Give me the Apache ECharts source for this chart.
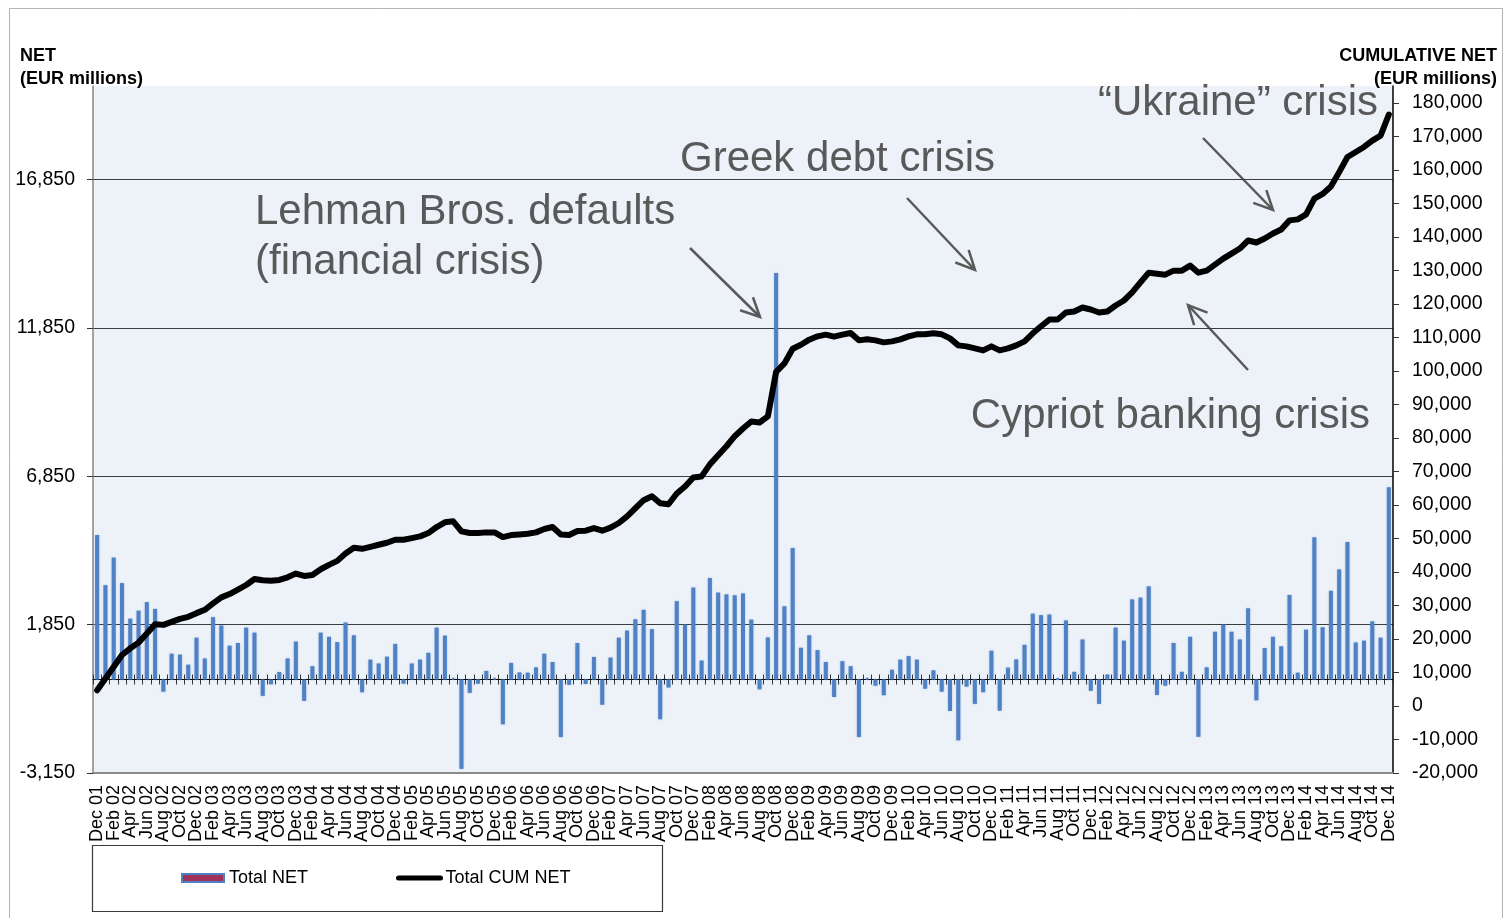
<!DOCTYPE html>
<html>
<head>
<meta charset="utf-8">
<script src="https://cdn.jsdelivr.net/npm/echarts@6/dist/echarts.min.js"></script>
<style>
  html, body { margin: 0; padding: 0; background: #fff; }
  #chart { width: 1512px; height: 918px; }
</style>
</head>
<body>
<div id="chart"></div>
<script>
// month labels, Dec 01 .. Dec 14
const monthNames = ['Jan', 'Feb', 'Mar', 'Apr', 'May', 'Jun', 'Jul', 'Aug', 'Sep', 'Oct', 'Nov', 'Dec'];
const categories = ['Dec 01'];
for (let y = 2; y <= 14; y++) {
  monthNames.forEach((m) => categories.push(m + ' ' + String(y).padStart(2, '0')));
}

// monthly net (EUR millions)
const totalNet = [
  4870, 3180, 4110, 3250, 2050, 2320, 2610, 2380, -410, 870, 840, 500,
  1410, 710, 2100, 1820, 1140, 1230, 1750, 1580, -550, -160, 250, 710,
  1280, -720, 450, 1580, 1440, 1260, 1920, 1490, -430, 670, 540, 770,
  1200, -140, 540, 670, 900, 1750, 1480, 60, -3010, -450, -140, 290,
  60, -1510, 560, 240, 230, 410, 870, 590, -1940, -180, 1230, -150,
  760, -850, 740, 1410, 1650, 2030, 2350, 1700, -1340, -270, 2640, 1850,
  3100, 640, 3420, 2930, 2870, 2840, 2900, 2020, -330, 1420, 13700, 2470,
  4430, 1070, 1490, 990, 590, -590, 620, 450, -1940, 50, -210, -530,
  330, 670, 790, 670, -310, 310, -410, -1060, -2050, -240, -820, -430,
  970, -1050, 400, 680, 1170, 2220, 2170, 2190, 30, 1990, 260, 1350,
  -380, -820, 170, 1750, 1310, 2700, 2760, 3140, -520, -210, 1230, 260,
  1440, -1930, 410, 1610, 1850, 1610, 1350, 2400, -700, 1060, 1440, 1120,
  2850, 230, 1680, 4790, 1760, 2990, 3710, 4630, 1250, 1310, 1960, 1410,
  6480
];

// cumulative net (EUR millions)
const totalCumNet = [
  4700, 8200, 11700, 15200, 17200, 18900, 21600, 24400, 24200, 25100, 26000, 26600,
  27700, 28700, 30600, 32400, 33400, 34700, 36100, 37900, 37500, 37400, 37600, 38400,
  39500, 38800, 39100, 40800, 42100, 43300, 45500, 47200, 46900, 47500, 48100, 48700,
  49600, 49600, 50100, 50600, 51600, 53400, 54800, 55100, 52100, 51600, 51600, 51800,
  51800, 50400, 51000, 51200, 51400, 51800, 52800, 53400, 51200, 51000, 52200, 52300,
  53100, 52300, 53200, 54600, 56600, 59000, 61400, 62600, 60500, 60200, 63400, 65500,
  68200, 68500, 72100, 74800, 77500, 80500, 82800, 84900, 84600, 86400, 99700, 102200,
  106600, 107800, 109300, 110300, 110800, 110200, 110800, 111300, 109100, 109400, 109100, 108500,
  108800, 109400, 110300, 110900, 110900, 111200, 110900, 109700, 107600, 107300, 106700, 106100,
  107300, 106100, 106700, 107600, 108800, 111200, 113300, 115300, 115300, 117400, 117700, 118900,
  118300, 117400, 117700, 119500, 121000, 123400, 126400, 129300, 129000, 128700, 129900, 129900,
  131400, 129300, 129900, 131700, 133500, 135000, 136500, 138900, 138300, 139500, 141000, 142200,
  144900, 145200, 146700, 151400, 152800, 155000, 159300, 163800, 165300, 166800, 168700, 170200,
  176500
];

const FONT = '"Liberation Sans", Arial, sans-serif';
const GREY = '#595959';

const fmt = (v) => v.toLocaleString('en-US');

// open arrow drawn as two polylines
function arrow(x1, y1, x2, y2) {
  const a = Math.atan2(y2 - y1, x2 - x1);
  const len = 21;
  const spread = 0.45;
  const style = { stroke: GREY, lineWidth: 2.5, fill: null };
  return [
    { type: 'polyline', shape: { points: [[x1, y1], [x2, y2]] }, style },
    {
      type: 'polyline',
      shape: {
        points: [
          [x2 - len * Math.cos(a - spread), y2 - len * Math.sin(a - spread)],
          [x2, y2],
          [x2 - len * Math.cos(a + spread), y2 - len * Math.sin(a + spread)]
        ]
      },
      style
    }
  ];
}

function note(text, x, y, align) {
  return {
    type: 'text',
    x, y,
    style: { text, font: '42px ' + FONT, fill: GREY, align: align || 'left', verticalAlign: 'middle', lineHeight: 50 }
  };
}

function boldText(text, x, y, align) {
  return {
    type: 'text',
    x, y,
    style: { text, font: 'bold 18px ' + FONT, fill: '#000', align, verticalAlign: 'top', lineHeight: 23 }
  };
}

const chart = echarts.init(document.getElementById('chart'));

const option = {
  backgroundColor: '#fff',
  animation: false,
  textStyle: { fontFamily: FONT },
  grid: {
    left: 93,
    right: 119,
    top: 86,
    bottom: 145,
    show: true,
    backgroundColor: '#edf2f9',
    borderWidth: 0,
    outerBoundsMode: 'none'
  },
  legend: {
    left: 176,
    top: 864,
    itemWidth: 42,
    itemHeight: 8,
    itemGap: 88,
    textStyle: { fontSize: 18, color: '#000', fontFamily: FONT },
    data: [
      { name: 'Total NET', icon: 'rect' },
      {
        name: 'Total CUM NET',
        itemStyle: { color: 'rgba(0,0,0,0)', borderWidth: 0 },
        lineStyle: { color: '#000', width: 5, cap: 'round' }
      }
    ]
  },
  xAxis: [
    {
      type: 'category',
      data: categories,
      position: 'bottom',
      axisLine: { onZero: false, lineStyle: { color: '#8a8a8a', width: 2 } },
      axisTick: { show: false },
      axisLabel: {
        interval: 0,
        formatter: (value, index) => (index % 2 === 0 ? value : ''),
        rotate: 90, fontSize: 18, color: '#000', margin: 12, fontFamily: FONT
      }
    },
    {
      type: 'category',
      data: categories,
      position: 'bottom',
      axisLine: { onZero: true, onZeroAxisIndex: 0, lineStyle: { color: '#000', width: 1 } },
      axisTick: { show: true, interval: 0, length: 5, lineStyle: { color: '#333' } },
      axisLabel: { show: false }
    },
    {
      type: 'category',
      data: categories,
      position: 'bottom',
      axisLine: { show: false, onZero: true, onZeroAxisIndex: 0 },
      axisTick: { show: true, inside: true, interval: 0, length: 5, lineStyle: { color: '#333' } },
      axisLabel: { show: false }
    }
  ],
  yAxis: [
    {
      type: 'value',
      position: 'left',
      min: -3150,
      max: 20000,
      interval: 5000,
      axisLine: { show: true, lineStyle: { color: '#868686', width: 1.5 } },
      axisTick: { show: true, length: 6, lineStyle: { color: '#333' } },
      axisLabel: { formatter: fmt, fontSize: 19.5, color: '#000', margin: 18, showMaxLabel: false, fontFamily: FONT },
      splitLine: { show: true, showMinLine: false, showMaxLine: false, lineStyle: { color: '#3c3c3c', width: 1 } }
    },
    {
      type: 'value',
      position: 'right',
      min: -20000,
      max: 185000,
      interval: 10000,
      axisLine: { show: true, lineStyle: { color: '#000', width: 1.5 } },
      axisTick: { show: true, length: 6, lineStyle: { color: '#333' } },
      axisLabel: { formatter: fmt, fontSize: 19.5, color: '#000', margin: 19, showMaxLabel: false, fontFamily: FONT },
      splitLine: { show: false }
    }
  ],
  series: [
    {
      name: 'Total NET',
      type: 'bar',
      xAxisIndex: 0,
      yAxisIndex: 0,
      data: totalNet,
      barWidth: 4,
      itemStyle: {
        color: '#a0305c',
        borderColor: '#4f81c4',
        borderWidth: 2,
        shadowColor: 'rgba(79,129,196,0.4)',
        shadowBlur: 2
      }
    },
    {
      name: 'Total CUM NET',
      type: 'line',
      xAxisIndex: 0,
      yAxisIndex: 1,
      data: totalCumNet,
      symbol: 'none',
      lineStyle: { color: '#000', width: 6, cap: 'round', join: 'round' },
      itemStyle: { color: '#000' },
      z: 5
    }
  ],
  graphic: [
    { type: 'rect', shape: { x: 9.5, y: 8.5, width: 1493, height: 930 }, style: { fill: null, stroke: '#b4b4b4', lineWidth: 1 }, silent: true },
    { type: 'rect', shape: { x: 92.5, y: 845.5, width: 570, height: 66 }, style: { fill: null, stroke: '#3a3a3a', lineWidth: 1.2 }, silent: true },
    boldText('NET\n(EUR millions)', 20, 45, 'left'),
    boldText('CUMULATIVE NET\n(EUR millions)', 1497, 45, 'right'),
    note('Lehman Bros. defaults\n(financial crisis)', 255, 237),
    note('Greek debt crisis', 680, 159),
    note('\u201cUkraine\u201d crisis', 1378, 103, 'right'),
    note('Cypriot banking crisis', 1370, 416, 'right'),
    ...arrow(690, 248, 760, 317),
    ...arrow(907, 198, 975, 270),
    ...arrow(1203, 138, 1273, 210),
    ...arrow(1248, 370, 1188, 305)
  ]
};

chart.setOption(option);
</script>
</body>
</html>
